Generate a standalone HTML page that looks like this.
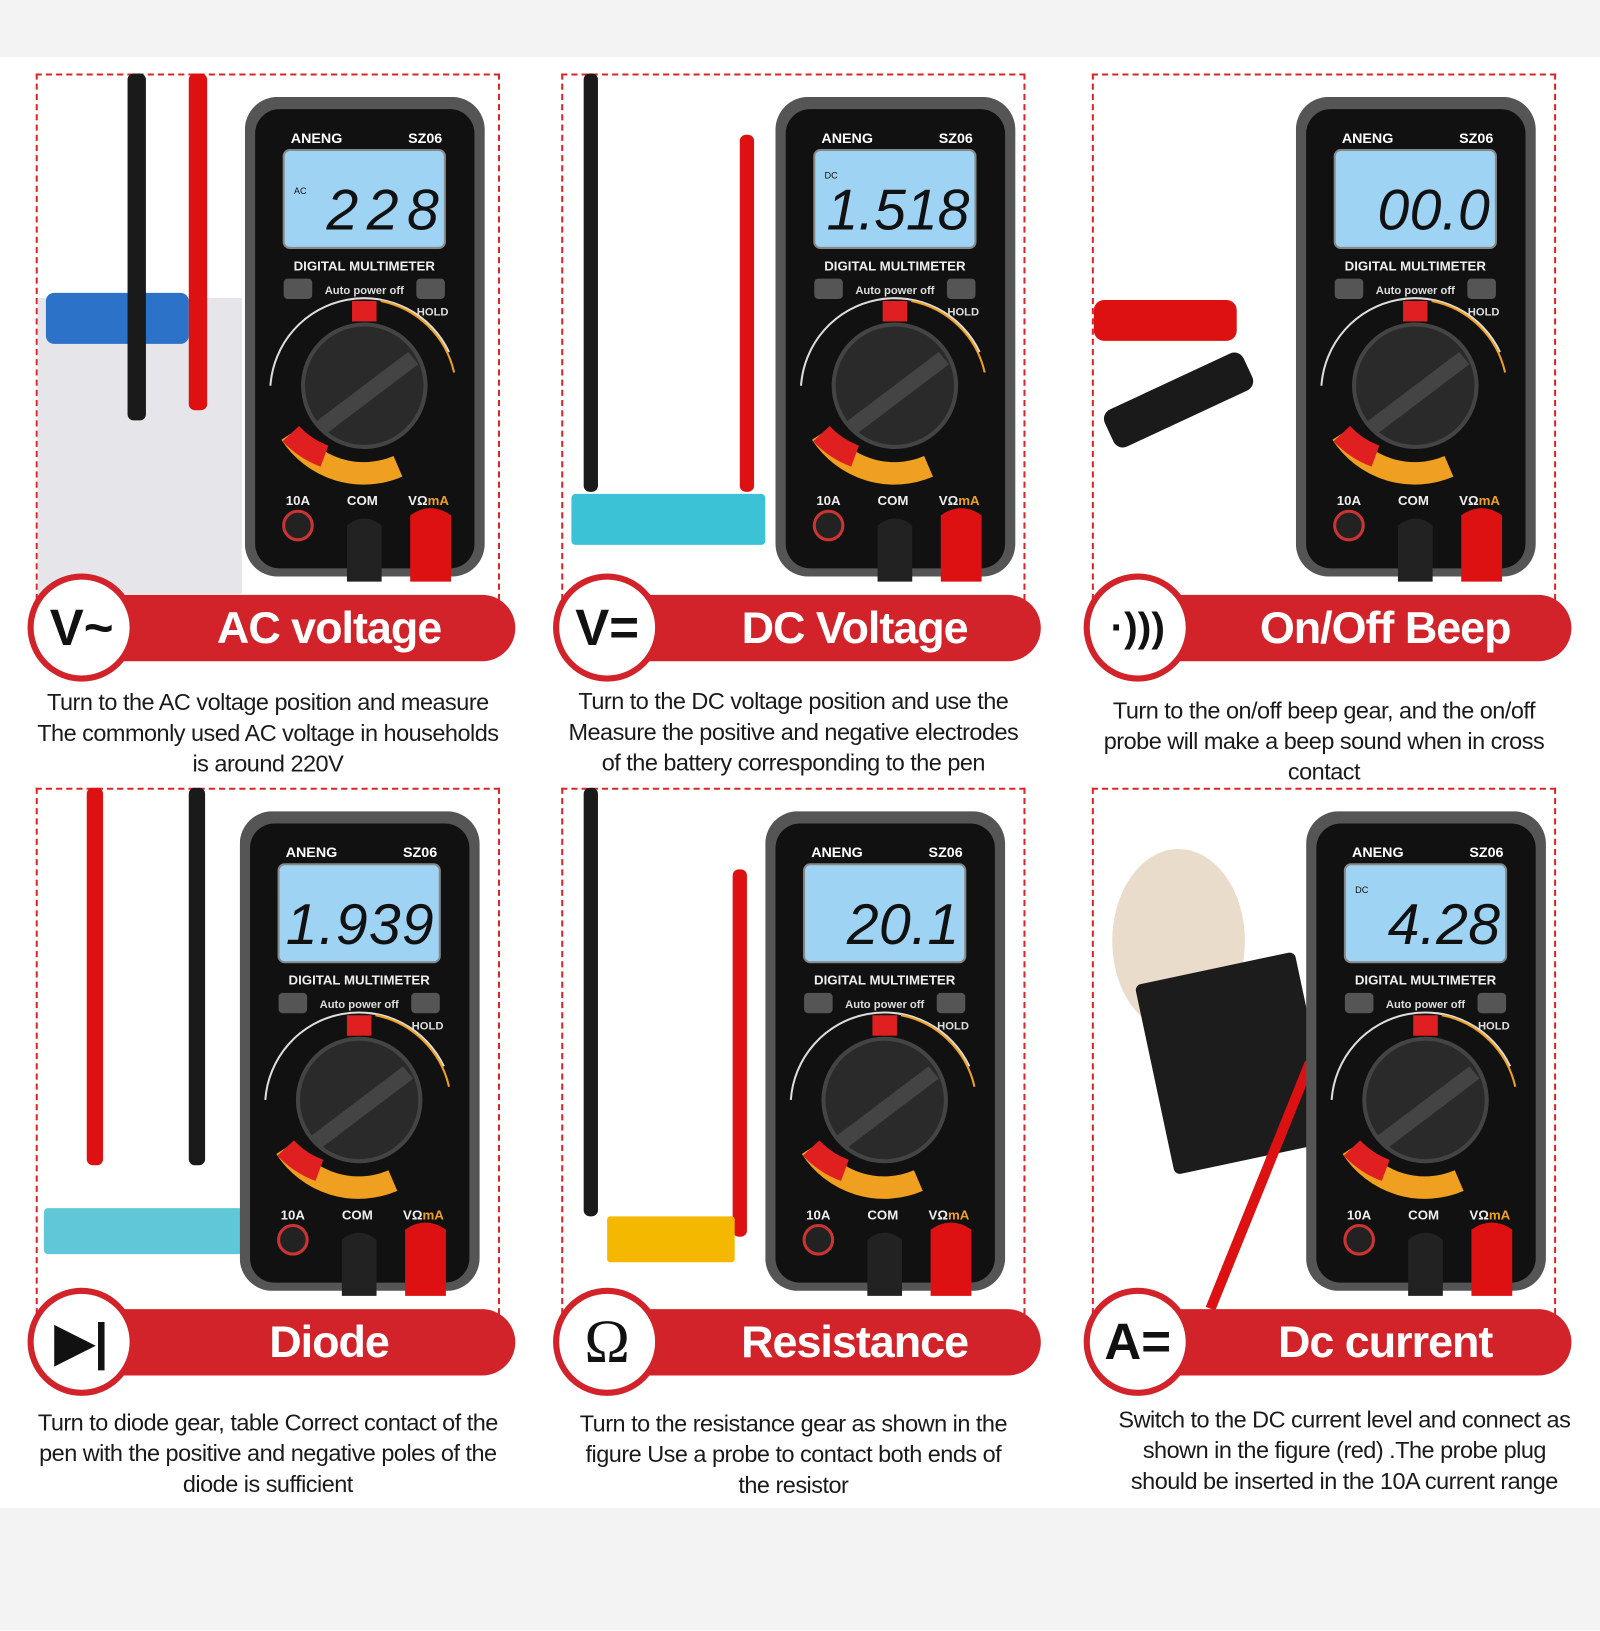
<!DOCTYPE html>
<html><head><meta charset="utf-8"><style>
body{margin:0;width:1600px;height:1600px;background:#fff;position:relative;overflow:hidden;font-family:"Liberation Sans",sans-serif}
#w{position:absolute;left:0;top:0;width:1568px;height:1568px;transform:scale(1.0204);transform-origin:0 0}
.band{position:absolute;left:0;width:1600px;background:#f3f3f3}
.p{position:absolute;width:455px;height:520px}
.box{position:absolute;left:0;top:0;width:451px;height:514px;border:2px dashed #d9262b;border-bottom:none}
.m{position:absolute;left:205px;top:23px}
.ban{position:absolute;left:65px;top:511px;width:405px;height:65px;background:#d2232a;border-radius:0 34px 34px 0;color:#fff;font-weight:bold;font-size:44px;line-height:65px;text-align:center;padding-left:40px;box-sizing:border-box;letter-spacing:-1px}
.cir{position:absolute;left:-8px;top:490px;width:94px;height:94px;border:6px solid #d2232a;border-radius:50%;background:#fff;color:#111;font-size:50px;font-weight:bold;text-align:center;line-height:94px}
.cap{position:absolute;left:-30px;width:515px;text-align:center;font-size:23px;line-height:30px;color:#1a1a1a;letter-spacing:-0.5px}
.pr{position:absolute;border-radius:6px}
.d{font-size:56px;font-style:italic}
</style></head><body>
<div id="w">
<div class="band" style="top:0;height:56px"></div>
<div class="band" style="top:1478px;height:120px"></div>

<svg width="0" height="0" style="position:absolute">
<defs>
<g id="meter">
<rect x="0" y="0" width="235" height="470" rx="32" fill="#555"/>
<rect x="10" y="12" width="215" height="450" rx="24" fill="#111"/>
<rect x="38" y="52" width="158" height="96" rx="6" fill="#9fd3f3" stroke="#888" stroke-width="2"/>
<text x="117" y="170" fill="#eee" font-size="13" font-weight="bold" text-anchor="middle" font-family="Liberation Sans">DIGITAL MULTIMETER</text>
<rect x="38" y="178" width="28" height="20" rx="4" fill="#555"/>
<rect x="168" y="178" width="28" height="20" rx="4" fill="#555"/>
<text x="117" y="193" fill="#ddd" font-size="11" font-weight="bold" text-anchor="middle" font-family="Liberation Sans">Auto power off</text>
<text x="184" y="214" fill="#ddd" font-size="11" font-weight="bold" text-anchor="middle" font-family="Liberation Sans">HOLD</text>
<rect x="105" y="200" width="24" height="20" fill="#e02020"/>
<path d="M25 283 A92 92 0 0 1 200 250" stroke="#ddd" fill="none" stroke-width="2"/>
<path d="M133 200 A92 92 0 0 1 205 270" stroke="#f0a020" fill="none" stroke-width="2"/>
<path d="M45 330 A85 85 0 0 0 150 362" stroke="#f0a020" fill="none" stroke-width="22"/>
<path d="M45 330 A85 85 0 0 0 78 352" stroke="#e02020" fill="none" stroke-width="22"/>
<circle cx="117" cy="283" r="60" fill="#2a2a2a" stroke="#444" stroke-width="4"/>
<path d="M70 318 L160 250 L170 262 L80 330 Z" fill="#444"/>
<text x="40" y="400" fill="#eee" font-size="13" font-weight="bold" font-family="Liberation Sans">10A</text>
<text x="100" y="400" fill="#eee" font-size="13" font-weight="bold" font-family="Liberation Sans">COM</text>
<text x="160" y="400" fill="#eee" font-size="13" font-weight="bold" font-family="Liberation Sans">VΩ<tspan fill="#f0a020">mA</tspan></text>
<circle cx="52" cy="420" r="14" fill="#222" stroke="#c33" stroke-width="3"/>
<path d="M100 420 q17 -14 34 0 v55 h-34 z" fill="#222"/>
<path d="M162 410 q20 -14 40 0 v65 h-40 z" fill="#d11"/>
</g>
</defs></svg>

<div class="p" style="left:35px;top:72px">
<div class="box"></div>
<div style="position:absolute;left:2px;top:220px;width:200px;height:290px;background:#e6e6ea"></div>
<div style="position:absolute;left:10px;top:215px;width:140px;height:50px;background:#2d72c9;border-radius:8px"></div>
<div class="pr" style="left:90px;top:0;width:18px;height:340px;background:#1a1a1a"></div>
<div class="pr" style="left:150px;top:0;width:18px;height:330px;background:#d11"></div>
<svg class="m" width="240" height="490"><use href="#meter"/><text x="45" y="45" fill="#fff" font-size="14" font-weight="bold">ANENG</text><text x="160" y="45" fill="#fff" font-size="14" font-weight="bold">SZ06</text><text x="190" y="130" class="d" text-anchor="end" fill="#111" textLength="110">228</text><text x="48" y="95" font-size="9" fill="#111">AC</text></svg>
<div class="ban">AC voltage</div>
<div class="cir">V~</div>
<div class="cap" style="top:601px">Turn to the AC voltage position and measure<br>The commonly used AC voltage in households<br>is around 220V</div>
</div>

<div class="p" style="left:550px;top:72px">
<div class="box"></div>
<div class="pr" style="left:22px;top:0;width:14px;height:410px;background:#1a1a1a"></div>
<div class="pr" style="left:175px;top:60px;width:14px;height:350px;background:#d11"></div>
<div style="position:absolute;left:10px;top:412px;width:190px;height:50px;background:#3cc2d6;border-radius:4px"></div>
<svg class="m" width="240" height="490" style="left:210px"><use href="#meter"/><text x="45" y="45" fill="#fff" font-size="14" font-weight="bold">ANENG</text><text x="160" y="45" fill="#fff" font-size="14" font-weight="bold">SZ06</text><text x="190" y="130" class="d" text-anchor="end" fill="#111" textLength="140">1.518</text><text x="48" y="80" font-size="9" fill="#111">DC</text></svg>
<div class="ban">DC Voltage</div>
<div class="cir">V=</div>
<div class="cap" style="top:600px">Turn to the DC voltage position and use the<br>Measure the positive and negative electrodes<br>of the battery corresponding to the pen</div>
</div>

<div class="p" style="left:1070px;top:72px">
<div class="box"></div>
<div style="position:absolute;left:2px;top:222px;width:140px;height:40px;background:#d11;border-radius:10px"></div>
<div style="position:absolute;left:10px;top:300px;width:150px;height:40px;background:#1a1a1a;border-radius:10px;transform:rotate(-25deg)"></div>
<svg class="m" width="240" height="490" style="left:200px"><use href="#meter"/><text x="45" y="45" fill="#fff" font-size="14" font-weight="bold">ANENG</text><text x="160" y="45" fill="#fff" font-size="14" font-weight="bold">SZ06</text><text x="190" y="130" class="d" text-anchor="end" fill="#111" textLength="110">00.0</text></svg>
<div class="ban">On/Off Beep</div>
<div class="cir" style="font-size:40px">·)))</div>
<div class="cap" style="top:609px">Turn to the on/off beep gear, and the on/off<br>probe will make a beep sound when in cross<br>contact</div>
</div>

<div class="p" style="left:35px;top:772px">
<div class="box"></div>
<div class="pr" style="left:50px;top:0;width:16px;height:370px;background:#d11"></div>
<div class="pr" style="left:150px;top:0;width:16px;height:370px;background:#1a1a1a"></div>
<div style="position:absolute;left:8px;top:412px;width:195px;height:45px;background:#5fc7d8;border-radius:4px"></div>
<svg class="m" width="240" height="490" style="left:200px"><use href="#meter"/><text x="45" y="45" fill="#fff" font-size="14" font-weight="bold">ANENG</text><text x="160" y="45" fill="#fff" font-size="14" font-weight="bold">SZ06</text><text x="190" y="130" class="d" text-anchor="end" fill="#111" textLength="145">1.939</text></svg>
<div class="ban">Diode</div>
<div class="cir">▶|</div>
<div class="cap" style="top:607px">Turn to diode gear, table Correct contact of the<br>pen with the positive and negative poles of the<br>diode is sufficient</div>
</div>

<div class="p" style="left:550px;top:772px">
<div class="box"></div>
<div class="pr" style="left:22px;top:0;width:14px;height:420px;background:#1a1a1a"></div>
<div class="pr" style="left:168px;top:80px;width:14px;height:360px;background:#d11"></div>
<div style="position:absolute;left:45px;top:420px;width:125px;height:45px;background:#f5b800;border-radius:3px"></div>
<svg class="m" width="240" height="490" style="left:200px"><use href="#meter"/><text x="45" y="45" fill="#fff" font-size="14" font-weight="bold">ANENG</text><text x="160" y="45" fill="#fff" font-size="14" font-weight="bold">SZ06</text><text x="190" y="130" class="d" text-anchor="end" fill="#111" textLength="110">20.1</text></svg>
<div class="ban">Resistance</div>
<div class="cir" style="font-weight:normal;font-family:'Liberation Serif',serif;font-size:60px">Ω</div>
<div class="cap" style="top:608px">Turn to the resistance gear as shown in the<br>figure Use a probe to contact both ends of<br>the resistor</div>
</div>

<div class="p" style="left:1070px;top:772px">
<div class="box"></div>
<div style="position:absolute;left:20px;top:60px;width:130px;height:180px;background:#e9dccb;border-radius:50%"></div>
<div style="position:absolute;left:60px;top:175px;width:160px;height:190px;background:#1c1c1c;border-radius:6px;transform:rotate(-12deg)"></div>
<div style="position:absolute;left:160px;top:260px;width:10px;height:260px;background:#d11;transform:rotate(22deg)"></div>
<svg class="m" width="240" height="490" style="left:210px"><use href="#meter"/><text x="45" y="45" fill="#fff" font-size="14" font-weight="bold">ANENG</text><text x="160" y="45" fill="#fff" font-size="14" font-weight="bold">SZ06</text><text x="190" y="130" class="d" text-anchor="end" fill="#111" textLength="110">4.28</text><text x="48" y="80" font-size="9" fill="#111">DC</text></svg>
<div class="ban">Dc current</div>
<div class="cir">A=</div>
<div class="cap" style="top:604px;left:-10px">Switch to the DC current level and connect as<br>shown in the figure (red) .The probe plug<br>should be inserted in the 10A current range</div>
</div>
</div>
</body></html>
